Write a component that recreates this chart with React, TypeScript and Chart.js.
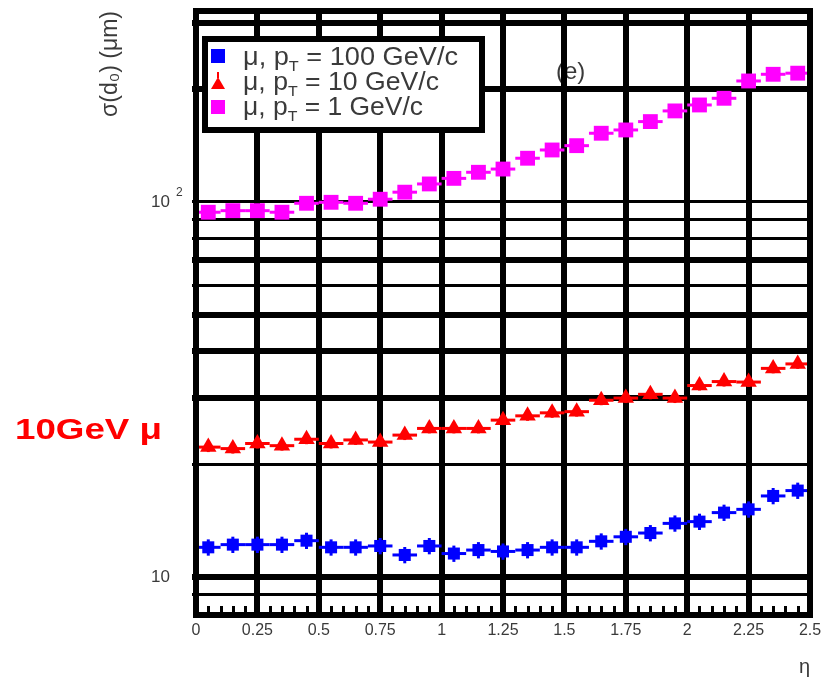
import React, { useEffect, useRef } from 'react';
import { Chart, registerables } from 'chart.js';

Chart.register(...registerables);

// ---- data ----
const etaBins = [0.05, 0.15, 0.25, 0.35, 0.45, 0.55, 0.65, 0.75, 0.85, 0.95, 1.05, 1.15, 1.25, 1.35, 1.45, 1.55, 1.65, 1.75, 1.85, 1.95, 2.05, 2.15, 2.25, 2.35, 2.45];
const etaHalfWidth = 0.05;
const sigmaPt100 = [12.0, 12.2, 12.2, 12.2, 12.5, 12.0, 12.0, 12.1, 11.45, 12.1, 11.55, 11.8, 11.7, 11.8, 12.0, 12.0, 12.45, 12.8, 13.1, 13.9, 14.05, 14.85, 15.15, 16.45, 17.0];
const sigmaPt10 = [22.2, 22.0, 22.7, 22.4, 23.3, 22.7, 23.2, 22.9, 23.9, 24.9, 24.9, 24.9, 26.2, 26.9, 27.4, 27.6, 29.6, 30.0, 30.7, 30.0, 32.4, 33.2, 33.1, 36.0, 37.0];
const sigmaPt1 = [93.9, 94.8, 94.8, 93.9, 99.2, 99.8, 99.2, 101.7, 106.2, 111.7, 115.6, 120.0, 122.4, 130.8, 137.6, 141.3, 152.5, 155.6, 163.8, 174.9, 181.4, 189.0, 210.2, 219.0, 220.5];
const relErrPt100 = 0.05;
const relErrPt10 = 0.03;
const relErrPt1 = 0.025;

const xTickValues = [0, 0.25, 0.5, 0.75, 1, 1.25, 1.5, 1.75, 2, 2.25, 2.5];
const yGridValues = [9, 10, 20, 30, 40, 50, 60, 70, 80, 90, 100, 200, 300];
const yLabelledValues = [10, 100];
const yLabelBase = '10';
const yRange = [7.92, 323];
const xRange = [0, 2.5];

const seriesLabels = ['100 GeV/c', '10 GeV/c', '1 GeV/c'];

// ---- styles ----
const FONT = '"Liberation Sans", Arial, Helvetica, sans-serif';
const TEXT = '#3a3a3a';
const yGridWidths = [3, 6, 3, 6, 6, 6, 3, 6, 3, 3, 3, 6, 6];

function mk(xs: number[], ys: number[], rel: number) {
  return xs.map((x, i) => ({ x, y: ys[i], xe: etaHalfWidth, re: rel }));
}

function stretchedText(ctx: any, txt: string, x: number, y: number, targetW: number) {
  const w = ctx.measureText(txt).width;
  ctx.save();
  ctx.translate(x, y);
  ctx.scale(targetW / w, 1);
  ctx.fillText(txt, 0, 0);
  ctx.restore();
  return targetW;
}

const decorPlugin = {
  id: 'decor',
  beforeDraw(chart: any) {
    const { ctx, width, height } = chart;
    ctx.save();
    ctx.fillStyle = '#ffffff';
    ctx.fillRect(0, 0, width, height);
    // (e) panel label, under the grid
    ctx.fillStyle = TEXT;
    ctx.font = `24px ${FONT}`;
    ctx.textBaseline = 'alphabetic';
    ctx.textAlign = 'left';
    ctx.fillText('(e)', 556, 79);
    ctx.restore();
  },
  beforeDatasetsDraw(chart: any) {
    const { ctx, scales } = chart;
    const x = scales.x, y = scales.y;
    ctx.save();
    chart.data.datasets.forEach((ds: any) => {
      ctx.strokeStyle = ds.borderColor;
      ds.data.forEach((p: any) => {
        const px = x.getPixelForValue(p.x);
        const py = y.getPixelForValue(p.y);
        ctx.lineWidth = 3;
        ctx.beginPath();
        ctx.moveTo(x.getPixelForValue(p.x - p.xe), py);
        ctx.lineTo(x.getPixelForValue(p.x + p.xe), py);
        ctx.stroke();
        ctx.lineWidth = 3;
        ctx.beginPath();
        ctx.moveTo(px, y.getPixelForValue(p.y * (1 + p.re)));
        ctx.lineTo(px, y.getPixelForValue(p.y * (1 - p.re)));
        ctx.stroke();
      });
    });
    ctx.restore();
  },
  afterDraw(chart: any) {
    const { ctx, chartArea: a, scales } = chart;
    const x = scales.x, y = scales.y;
    ctx.save();
    // minor ticks on bottom axis
    ctx.strokeStyle = '#000';
    ctx.lineWidth = 3;
    for (let k = 0; k < xTickValues.length - 1; k++) {
      const v0 = xTickValues[k], v1 = xTickValues[k + 1];
      for (let j = 1; j < 5; j++) {
        const v = v0 + ((v1 - v0) * j) / 5;
        const px = Math.round(x.getPixelForValue(v)) + 0.5;
        ctx.beginPath();
        ctx.moveTo(px, a.bottom);
        ctx.lineTo(px, a.bottom - 9);
        ctx.stroke();
      }
    }
    // frame
    ctx.lineWidth = 6;
    ctx.strokeRect(a.left, a.top, a.right - a.left, a.bottom - a.top);

    // superscript of 10^2
    ctx.fillStyle = TEXT;
    ctx.font = `12px ${FONT}`;
    ctx.textAlign = 'left';
    ctx.textBaseline = 'alphabetic';
    const p100 = y.getPixelForValue(100);
    ctx.fillText('2', 176, p100 - 6);

    // legend
    const L = { x0: 205, y0: 39, x1: 482, y1: 130 };
    ctx.fillStyle = '#fff';
    ctx.fillRect(L.x0, L.y0, L.x1 - L.x0, L.y1 - L.y0);
    ctx.lineWidth = 6;
    ctx.strokeStyle = '#000';
    ctx.strokeRect(L.x0, L.y0, L.x1 - L.x0, L.y1 - L.y0);
    const rows = [65, 90, 115];
    const mCenters = [56, 82, 107];
    const widths = [215, 196, 180];
    chart.data.datasets.forEach((ds: any, i: number) => {
      const cx = 218, cy = mCenters[i];
      ctx.fillStyle = ds.backgroundColor;
      if (ds.pointStyle === 'triangle') {
        ctx.beginPath();
        ctx.moveTo(cx, cy - 5);
        ctx.lineTo(cx + 7, cy + 7);
        ctx.lineTo(cx - 7, cy + 7);
        ctx.closePath();
        ctx.fill();
        ctx.fillRect(cx - 1, cy - 10, 2, 6);
      } else {
        ctx.fillRect(cx - 7, cy - 7, 14, 14);
      }
      // text (horizontally stretched to match the original)
      ctx.fillStyle = TEXT;
      const by = rows[i];
      const pre = 'μ, p';
      const post = ' = ' + seriesLabels[i];
      ctx.font = `25px ${FONT}`;
      const w1 = ctx.measureText(pre).width;
      const w3 = ctx.measureText(post).width;
      ctx.font = `15px ${FONT}`;
      const w2 = ctx.measureText('T').width;
      const k = widths[i] / (w1 + w2 + w3);
      ctx.save();
      ctx.translate(243, by);
      ctx.scale(k, 1);
      ctx.font = `25px ${FONT}`;
      ctx.fillText(pre, 0, 0);
      ctx.font = `15px ${FONT}`;
      ctx.fillText('T', w1, 6);
      ctx.font = `25px ${FONT}`;
      ctx.fillText(post, w1 + w2, 0);
      ctx.restore();
    });

    // red annotation
    ctx.fillStyle = '#ff0000';
    ctx.font = `bold 29px Arial, ${FONT}`;
    stretchedText(ctx, '10GeV μ', 15, 439, 147);
    ctx.restore();
  },
};

export default function App() {
  const ref = useRef<HTMLCanvasElement | null>(null);
  useEffect(() => {
    if (!ref.current) return;
    const chart = new Chart(ref.current, {
      type: 'scatter',
      data: {
        datasets: [
          {
            label: 'μ, pT = 100 GeV/c',
            data: mk(etaBins, sigmaPt100, relErrPt100),
            backgroundColor: '#0000ff',
            borderColor: '#0000ff',
            pointStyle: 'rect',
            pointRadius: 8.5,
            pointBorderWidth: 0,
          },
          {
            label: 'μ, pT = 10 GeV/c',
            data: mk(etaBins, sigmaPt10, relErrPt10),
            backgroundColor: '#ff0000',
            borderColor: '#ff0000',
            pointStyle: 'triangle',
            pointRadius: 9.5,
            pointBorderWidth: 0,
          },
          {
            label: 'μ, pT = 1 GeV/c',
            data: mk(etaBins, sigmaPt1, relErrPt1),
            backgroundColor: '#ff00ff',
            borderColor: '#ff00ff',
            pointStyle: 'rect',
            pointRadius: 10.5,
            pointBorderWidth: 0,
          },
        ] as any,
      },
      options: {
        animation: false,
        responsive: false,
        layout: { padding: { top: 11, right: 17, left: 0, bottom: 0 } },
        plugins: { legend: { display: false }, tooltip: { enabled: false } },
        scales: {
          x: {
            type: 'linear',
            min: xRange[0],
            max: xRange[1],
            afterBuildTicks: (s: any) => {
              s.ticks = xTickValues.map((v) => ({ value: v }));
            },
            afterFit: (s: any) => {
              s.height = 76;
              s.paddingLeft = 0;
              s.paddingRight = 0;
            },
            ticks: {
              autoSkip: false,
              maxRotation: 0,
              padding: 6,
              color: TEXT,
              font: { family: FONT, size: 16 },
              callback: (v: any) => String(+Number(v).toFixed(2)),
            },
            grid: { color: '#000', lineWidth: 6, drawTicks: false },
            border: { display: false },
            title: {
              display: true,
              text: 'η',
              align: 'end',
              color: TEXT,
              font: { family: FONT, size: 20 },
              padding: { top: 0, bottom: 12 },
            },
          },
          y: {
            type: 'logarithmic',
            min: yRange[0],
            max: yRange[1],
            afterBuildTicks: (s: any) => {
              s.ticks = yGridValues.map((v) => ({ value: v }));
            },
            afterFit: (s: any) => {
              s.width = 196;
              s.paddingTop = 0;
              s.paddingBottom = 0;
            },
            ticks: {
              autoSkip: false,
              padding: 22,
              color: TEXT,
              font: { family: FONT, size: 17 },
              callback: (v: any) => (yLabelledValues.includes(Number(v)) ? yLabelBase : ''),
            },
            grid: {
              color: '#000',
              lineWidth: (c: any) => {
                const i = yGridValues.indexOf(c.tick ? c.tick.value : -1);
                return i >= 0 ? yGridWidths[i] : 3;
              },
              drawTicks: true,
              tickLength: 4,
            },
            border: { display: false },
            title: {
              display: true,
              text: 'σ(d₀) (μm)',
              align: 'end',
              color: TEXT,
              font: { family: FONT, size: 23 },
              padding: { top: 97, bottom: 0 },
            },
          },
        },
      } as any,
      plugins: [decorPlugin],
    });
    return () => chart.destroy();
  }, []);
  return (
    <div style={{ position: 'absolute', left: 0, top: 0, width: 827, height: 691 }}>
      <canvas ref={ref} width={827} height={691} style={{ display: 'block' }} />
    </div>
  );
}
